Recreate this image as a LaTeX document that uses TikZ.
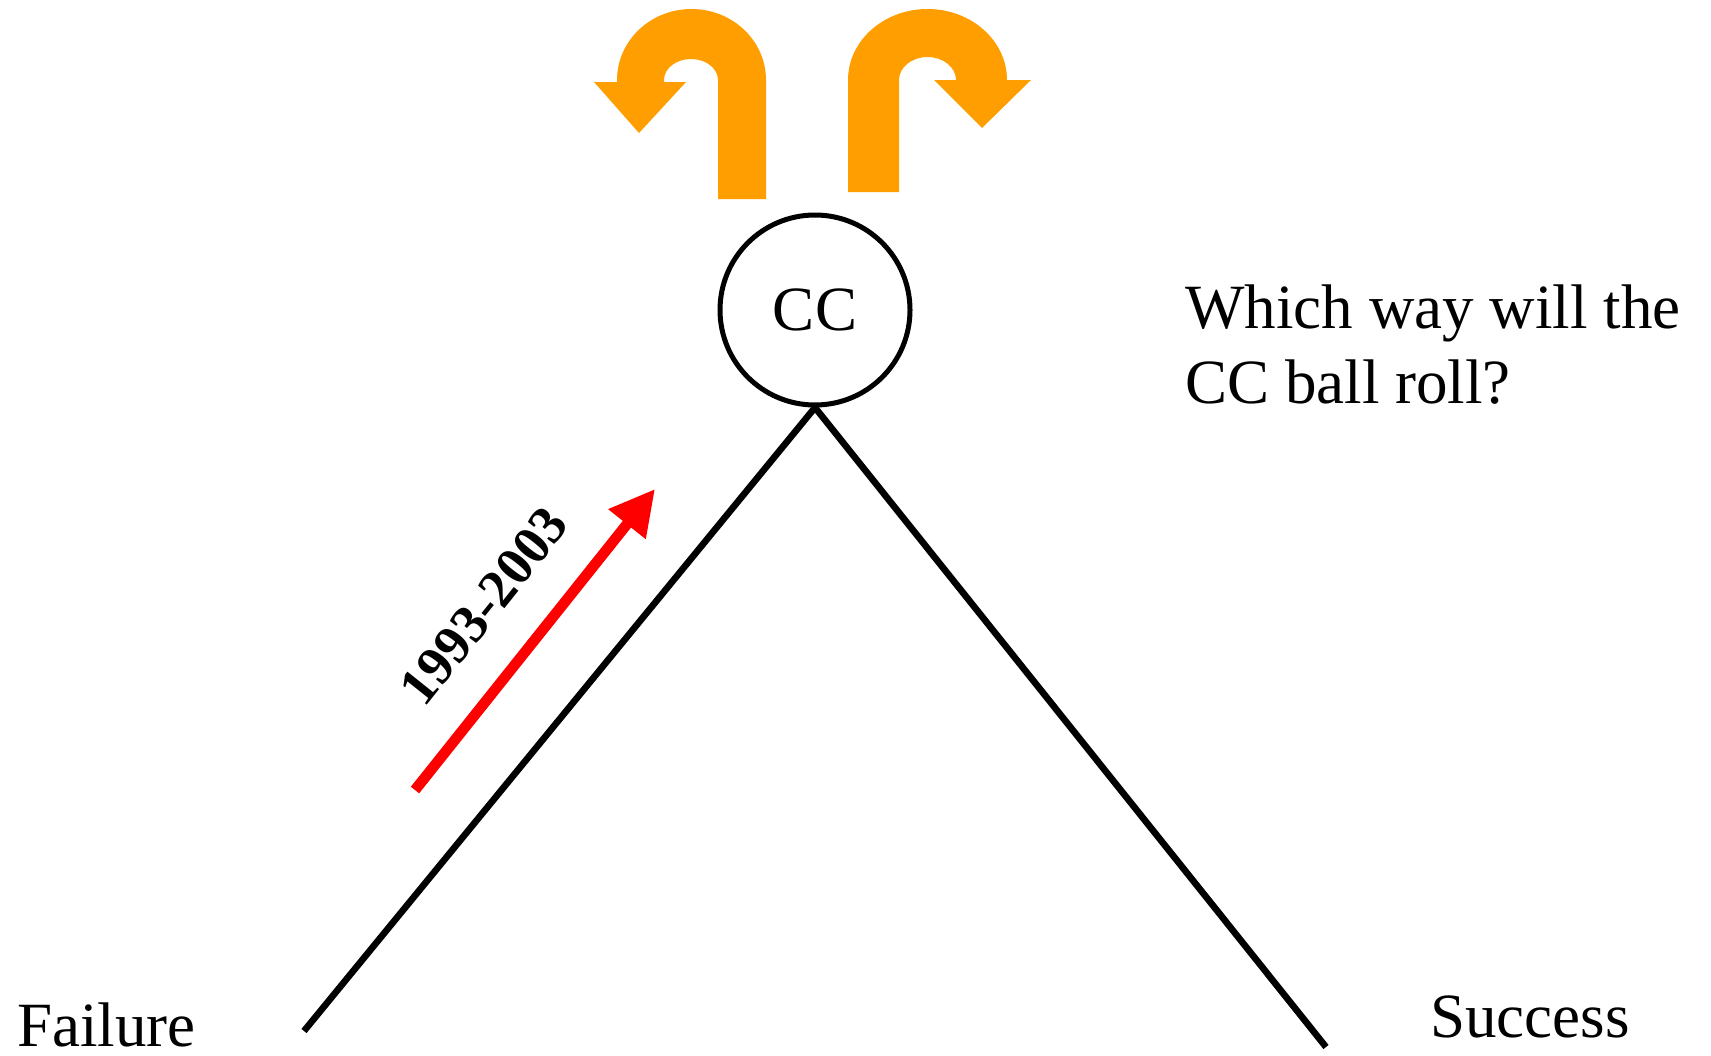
\documentclass[tikz,border=0pt]{standalone}
\usepackage{fontspec}
\setmainfont{Liberation Serif}
\usepackage{tikz}
\usetikzlibrary{arrows.meta,positioning}
\usepackage{xcolor}
\definecolor{ink}{RGB}{0,0,0}
\definecolor{cTurn}{RGB}{255,158,0}
\definecolor{cRise}{RGB}{255,0,0}
\tikzset{
  ball/.style={draw=ink,circle,line width=2.5pt,minimum size=95pt,inner sep=0pt,
    font=\fontsize{31.5}{37.5}\selectfont},
  slope/.style={draw=ink,line width=3.3pt},
  rise/.style={draw=cRise,line width=5.3pt,-{Triangle[length=22.5pt,width=22.5pt]}},
  turn/.style={fill=cTurn,draw=none},
  lbl/.style={font=\fontsize{31.5}{37.5}\selectfont,inner sep=0pt,align=left},
}

\begin{document}
\begin{tikzpicture}[x=0.5pt,y=-0.5pt]
  \useasboundingbox (0,0) rectangle (1711,1055);

  % the ball on top of the hill
  \node[ball] (cc) at (815,310) {CC};
  \coordinate (failend) at (304,1031);
  \coordinate (succend) at (1326,1047);
  \draw[slope] (failend) -- (cc.south) -- (succend);

  % labels at the feet of the hill
  \node[lbl,anchor=base west] (fail) at (17,1046) {Failure};
  \node[lbl,anchor=base west] (succ) at (1430,1037) {Success};
  \node[lbl,anchor=base west] (ask) at (1185,403) {Which way will the\\CC ball roll?};

  % climb up the left side
  \coordinate (risefrom) at (415,790);
  \coordinate (riseto) at (655,489);
  \draw[rise] (risefrom) -- (riseto);
  \node[font=\fontsize{27}{30}\selectfont\bfseries,inner sep=0pt,rotate=51.4] (years)
    at (484,606) {1993-2003};

  % u-turn arrows above the ball
  \fill[turn] (766,199) -- (766,80)
    .. controls (766,40.8) and (732.6,9) .. (691.5,9)
    .. controls (650.4,9) and (617,40.8) .. (617,80)
    -- (617,82) -- (594,82) -- (639,133) -- (686,82) -- (664,82) -- (664,80)
    .. controls (664,68.4) and (676.1,59) .. (691,59)
    .. controls (705.9,59) and (718,68.4) .. (718,80)
    -- (718,199) -- cycle;
  \fill[turn] (848,192) -- (848,80)
    .. controls (848,40.8) and (883.6,9) .. (927.5,9)
    .. controls (971.4,9) and (1007,40.8) .. (1007,80)
    -- (1031,80) -- (982,128) -- (934,80) -- (956,80)
    .. controls (956,67.3) and (943.2,57) .. (927.5,57)
    .. controls (911.8,57) and (899,67.3) .. (899,80)
    -- (899,192) -- cycle;
\end{tikzpicture}
\end{document}
